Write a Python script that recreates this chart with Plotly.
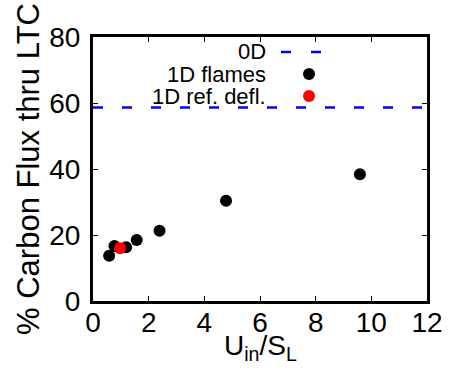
import plotly.graph_objects as go

# Data
flames_x = [0.58, 0.77, 1.19, 1.57, 2.39, 4.78, 9.59]
flames_y = [13.7, 16.7, 16.3, 18.5, 21.3, 30.4, 38.4]
ref_x = [0.97]
ref_y = [16.0]
zero_d_x = [0, 12]
zero_d_y = [58.6, 58.6]

FONT = "Liberation Sans, Arial, Helvetica, sans-serif"

fig = go.Figure()
fig.add_trace(go.Scatter(x=zero_d_x, y=zero_d_y, mode="lines",
                         line=dict(color="#0000ff", width=2.5, dash="10px,19px"),
                         showlegend=False, cliponaxis=False))
fig.add_trace(go.Scatter(x=flames_x, y=flames_y, mode="markers",
                         marker=dict(color="black", size=12), showlegend=False))
fig.add_trace(go.Scatter(x=ref_x, y=ref_y, mode="markers",
                         marker=dict(color="#ff0000", size=12), showlegend=False))

# legend (text left, symbol right) drawn in paper coordinates
leg_rows = [("0D", 52), ("1D flames", 74), ("1D ref. defl.", 96)]
L, R, T, B = 93, 427, 37, 301
W, H = R - L, B - T
def px(x):
    return (x - L) / W
def py(y):
    return (B - y) / H

for txt, yy in leg_rows:
    fig.add_annotation(text=txt, xref="paper", yref="paper", x=px(268), y=py(yy),
                       xanchor="right", yanchor="middle", showarrow=False,
                       font=dict(family=FONT, size=22, color="black"))
# dashed sample
for x0 in (281, 311):
    fig.add_shape(type="line", xref="paper", yref="paper", x0=px(x0), x1=px(x0 + 10),
                  y0=py(52), y1=py(52), line=dict(color="#0000ff", width=2.5))
for col, yy in (("black", 74), ("#ff0000", 96)):
    fig.add_shape(type="circle", xref="paper", yref="paper",
                  xsizemode="pixel", ysizemode="pixel",
                  xanchor=px(309), yanchor=py(yy), x0=-6, x1=6, y0=-6, y1=6,
                  fillcolor=col, line=dict(width=0))

# x-axis title as annotation to control its vertical position
fig.add_annotation(text="U<sub>in</sub>/S<sub>L</sub>", xref="paper", yref="paper",
                   x=0.5, y=py(347), xanchor="center", yanchor="middle",
                   showarrow=False, font=dict(family=FONT, size=28, color="black"))

axis_common = dict(showline=True, linecolor="black", linewidth=3, mirror="ticks",
                   ticks="inside", ticklen=5, tickwidth=1, tickcolor="black",
                   showgrid=False, zeroline=False, automargin=False,
                   tickfont=dict(family=FONT, size=28, color="black"))

fig.update_layout(
    width=458, height=376,
    margin=dict(l=93, r=31, t=37, b=75),
    paper_bgcolor="white", plot_bgcolor="white",
    xaxis=dict(range=[0, 12], tickvals=[0, 2, 4, 6, 8, 10, 12], ticklabelstandoff=-6,
               **axis_common),
    yaxis=dict(range=[0, 80], tickvals=[0, 20, 40, 60, 80], ticklabelstandoff=4,
               title=dict(text="% Carbon Flux thru LTC", standoff=1,
                          font=dict(family=FONT, size=31, color="black")),
               **axis_common),
)

fig.write_html("out.html", config={"displayModeBar": False},
               post_script="document.body.style.margin='0';document.body.style.overflow='hidden';")
